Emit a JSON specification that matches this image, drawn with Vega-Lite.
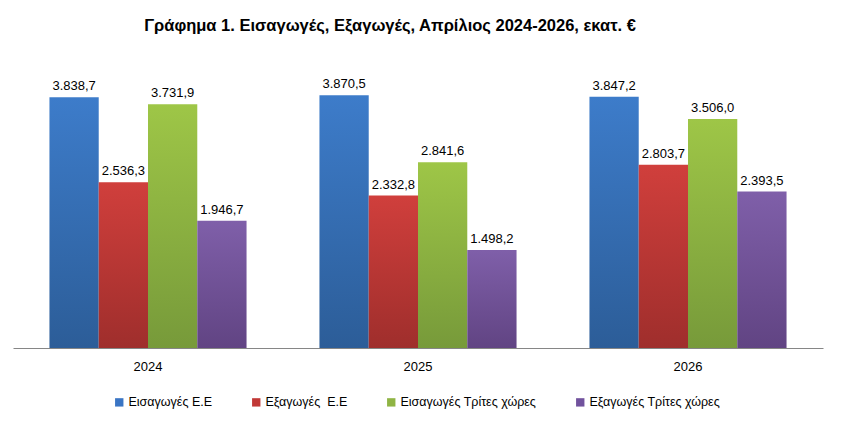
{
  "$schema": "https://vega.github.io/schema/vega-lite/v6.json",
  "width": 810,
  "height": 294,
  "autosize": {"type": "none"},
  "padding": {"left": 13, "top": 54, "right": 18, "bottom": 74},
  "background": "white",
  "config": {
    "view": {"stroke": null},
    "font": "Liberation Sans",
    "locale": {"number": {"decimal": ",", "thousands": ".", "grouping": [3], "currency": ["", " €"]}}
  },
  "title": {
    "text": "Γράφημα 1. Εισαγωγές, Εξαγωγές, Απρίλιος 2024-2026, εκατ. €",
    "fontSize": 16.5,
    "fontWeight": "bold",
    "color": "black",
    "anchor": "middle",
    "dx": -28,
    "offset": 20
  },
  "data": {
    "values": [
      {"year": "2024", "series": "Εισαγωγές Ε.Ε", "value": 3838.7},
      {"year": "2024", "series": "Εξαγωγές  Ε.Ε", "value": 2536.3},
      {"year": "2024", "series": "Εισαγωγές Τρίτες χώρες", "value": 3731.9},
      {"year": "2024", "series": "Εξαγωγές Τρίτες χώρες", "value": 1946.7},
      {"year": "2025", "series": "Εισαγωγές Ε.Ε", "value": 3870.5},
      {"year": "2025", "series": "Εξαγωγές  Ε.Ε", "value": 2332.8},
      {"year": "2025", "series": "Εισαγωγές Τρίτες χώρες", "value": 2841.6},
      {"year": "2025", "series": "Εξαγωγές Τρίτες χώρες", "value": 1498.2},
      {"year": "2026", "series": "Εισαγωγές Ε.Ε", "value": 3847.2},
      {"year": "2026", "series": "Εξαγωγές  Ε.Ε", "value": 2803.7},
      {"year": "2026", "series": "Εισαγωγές Τρίτες χώρες", "value": 3506.0},
      {"year": "2026", "series": "Εξαγωγές Τρίτες χώρες", "value": 2393.5}
    ]
  },
  "encoding": {
    "x": {
      "field": "year",
      "type": "nominal",
      "scale": {"paddingInner": 0.27, "paddingOuter": 0.135},
      "axis": {"title": null, "labelAngle": 0, "ticks": false, "domainColor": "#868686", "domainWidth": 1, "labelFontSize": 13, "labelPadding": 12, "labelColor": "black"}
    },
    "xOffset": {
      "field": "series",
      "type": "nominal",
      "sort": ["Εισαγωγές Ε.Ε", "Εξαγωγές  Ε.Ε", "Εισαγωγές Τρίτες χώρες", "Εξαγωγές Τρίτες χώρες"],
      "scale": {"paddingInner": 0, "paddingOuter": 0}
    },
    "y": {
      "field": "value",
      "type": "quantitative",
      "scale": {"domain": [0, 4500]},
      "axis": null
    }
  },
  "layer": [
    {
      "mark": {"type": "bar"},
      "encoding": {
        "color": {
          "field": "series",
          "type": "nominal",
          "sort": ["Εισαγωγές Ε.Ε", "Εξαγωγές  Ε.Ε", "Εισαγωγές Τρίτες χώρες", "Εξαγωγές Τρίτες χώρες"],
          "scale": {
            "domain": ["Εισαγωγές Ε.Ε", "Εξαγωγές  Ε.Ε", "Εισαγωγές Τρίτες χώρες", "Εξαγωγές Τρίτες χώρες"],
            "range": ["#3a75c4", "#c13836", "#8fb444", "#71529d"]
          },
          "condition": [
            {"test": "datum.series === 'Εισαγωγές Ε.Ε'", "value": {"gradient": "linear", "x1": 0, "y1": 0, "x2": 0, "y2": 1, "stops": [{"offset": 0, "color": "#3d7cca"}, {"offset": 1, "color": "#2c5d98"}]}},
            {"test": "datum.series === 'Εξαγωγές  Ε.Ε'", "value": {"gradient": "linear", "x1": 0, "y1": 0, "x2": 0, "y2": 1, "stops": [{"offset": 0, "color": "#d03f3c"}, {"offset": 1, "color": "#9f2e2c"}]}},
            {"test": "datum.series === 'Εισαγωγές Τρίτες χώρες'", "value": {"gradient": "linear", "x1": 0, "y1": 0, "x2": 0, "y2": 1, "stops": [{"offset": 0, "color": "#9ec647"}, {"offset": 1, "color": "#779a3a"}]}},
            {"test": "datum.series === 'Εξαγωγές Τρίτες χώρες'", "value": {"gradient": "linear", "x1": 0, "y1": 0, "x2": 0, "y2": 1, "stops": [{"offset": 0, "color": "#7f5fa9"}, {"offset": 1, "color": "#614483"}]}}
          ],
          "legend": {
            "orient": "none",
            "legendX": 100,
            "legendY": 342,
            "direction": "horizontal",
            "title": null,
            "symbolType": "square",
            "symbolSize": 70,
            "symbolStrokeWidth": 0,
            "labelFontSize": 12.5,
            "labelColor": "black",
            "labelOffset": 3,
            "columnPadding": 37,
            "labelLimit": 300,
            "labelExpr": "replace(datum.label, '  ', '\u00a0 ')"
          }
        }
      }
    },
    {
      "mark": {"type": "text", "baseline": "bottom", "dy": -4, "fontSize": 13, "color": "black"},
      "encoding": {
        "text": {"field": "value", "type": "quantitative", "format": ",.1f"}
      }
    }
  ]
}
